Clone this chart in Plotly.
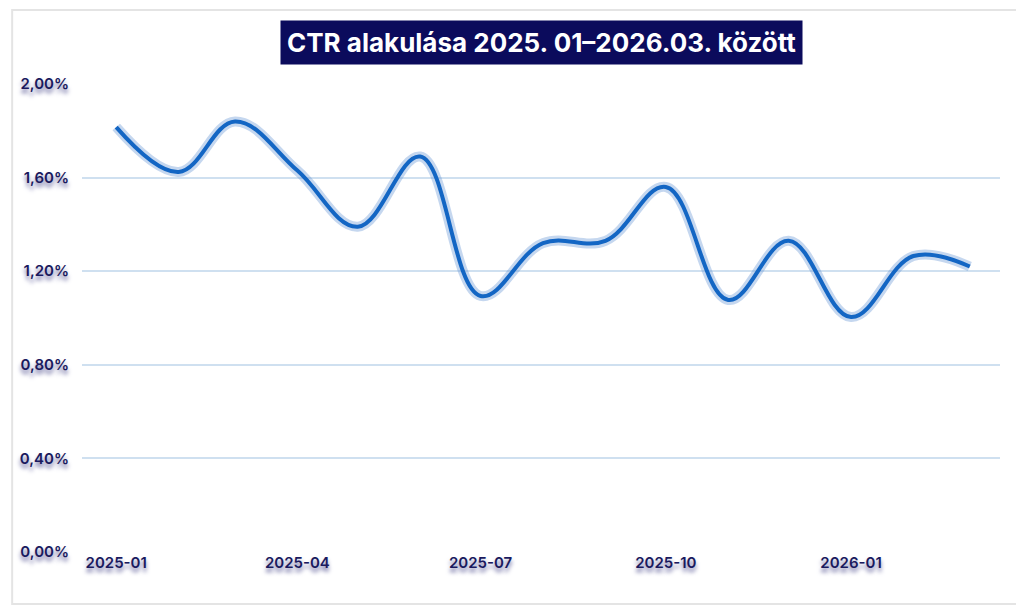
import plotly.graph_objects as go

months = ["2025-01-01","2025-02-01","2025-03-01","2025-04-01","2025-05-01","2025-06-01","2025-07-01",
          "2025-08-01","2025-09-01","2025-10-01","2025-11-01","2025-12-01","2026-01-01","2026-02-01","2026-03-01"]
ctr = [1.816, 1.624, 1.84, 1.63, 1.39, 1.69, 1.094, 1.32, 1.33, 1.56, 1.077, 1.33, 1.004, 1.265, 1.22]
yticks = [0, 0.4, 0.8, 1.2, 1.6, 2.0]
ytext = ["0,00%", "0,40%", "0,80%", "1,20%", "1,60%", "2,00%"]

navy = "#1a1a5e"
fnt = "Inter, sans-serif"
fig = go.Figure()
fig.add_trace(go.Scatter(x=months, y=ctr, mode="lines",
                         line=dict(shape="spline", width=10, color="rgba(90,140,210,0.35)", smoothing=1.1),
                         hoverinfo="skip"))
fig.add_trace(go.Scatter(x=months, y=ctr, mode="lines",
                         line=dict(shape="spline", width=4, color="#1366c4", smoothing=1.1)))
tf = dict(size=15, color=navy, family=fnt, weight=600, shadow="0px 4px 4px #6a6aa0")
fig.update_layout(
    width=1024, height=605, showlegend=False,
    paper_bgcolor="white", plot_bgcolor="white",
    margin=dict(l=72, r=32, t=76, b=61),
    font=dict(family=fnt, color=navy),
    xaxis=dict(type="date", range=["2024-12-15", "2026-03-16"], dtick="M3", tick0="2025-01-01",
               tickformat="%Y-%m", showgrid=False, zeroline=False, showline=False, tickfont=tf),
    yaxis=dict(range=[0, 2.0], tickvals=yticks, ticktext=ytext, showgrid=True, gridcolor="#cfe0f0",
               gridwidth=1.5, zeroline=False, ticklabelstandoff=12, tickfont=tf),
    annotations=[dict(text="<b>CTR alakulása 2025. 01–2026.03. között</b>", xref="paper", yref="paper",
                      x=0.5, y=1.0, yshift=42, showarrow=False, xanchor="center", yanchor="middle",
                      font=dict(size=26, color="white", family=fnt),
                      bgcolor="#0b0b5c", borderpad=6)],
)
fig.add_shape(type="rect", xref="paper", yref="paper", x0=-70/920, x1=1+22/920, y0=-52/468, y1=1+74/468,
              line=dict(color="#e4e4e4", width=2), layer="below")
fig.write_html("out.html")
